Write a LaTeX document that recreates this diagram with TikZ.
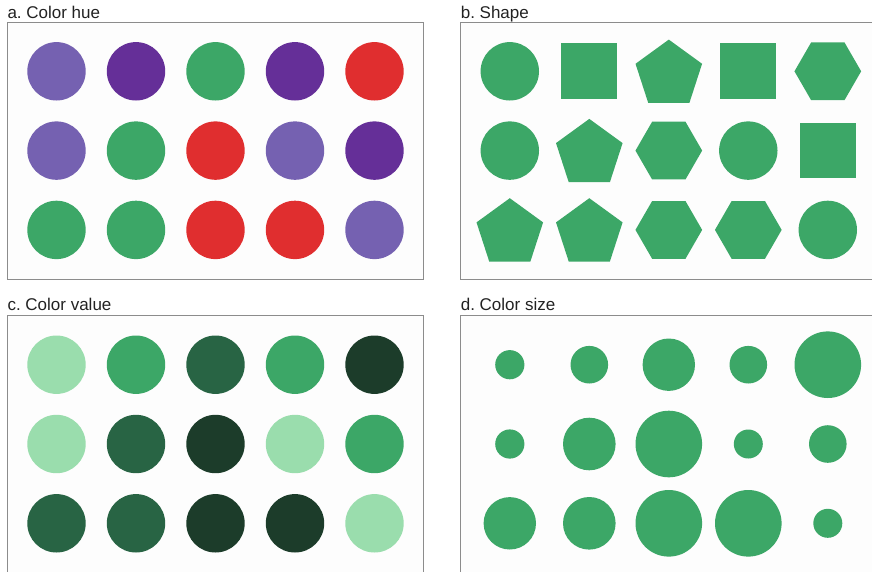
\documentclass[tikz,border=0pt]{standalone}
\usepackage{fontspec}
\setmainfont{Liberation Sans}
\usetikzlibrary{shapes.geometric}
\frenchspacing
\definecolor{Ink}{HTML}{222222}
\definecolor{Frame}{HTML}{8C8C8C}
\definecolor{Paper}{HTML}{FDFDFD}
\definecolor{Green}{HTML}{3CA767}
\definecolor{HueLight}{HTML}{7561B1}
\definecolor{HuePurple}{HTML}{652F98}
\definecolor{HueRed}{HTML}{E02E2F}
\definecolor{ValLight}{HTML}{9ADDAD}
\definecolor{ValDark}{HTML}{286444}
\definecolor{ValDarkest}{HTML}{1C3C2A}
\tikzset{
  panel/.style={draw=Frame, fill=Paper, line width=1pt},
  paneltitle/.style={anchor=base west, inner sep=0pt, text=Ink, font=\fontsize{17}{20}\selectfont},
  dot/.style={circle, fill=#1, draw=none, inner sep=0pt, minimum size=58.4pt},
  blockshape/.style={rectangle, fill=Green, inner sep=0pt, minimum size=55.7pt},
  pentashape/.style={regular polygon, regular polygon sides=5, fill=Green, inner sep=0pt, minimum size=70pt, yshift=-3.3pt},
  hexashape/.style={regular polygon, regular polygon sides=6, fill=Green, inner sep=0pt, minimum size=66.7pt}
}

\begin{document}
\begin{tikzpicture}[x=1pt,y=-1pt]
\useasboundingbox (0,0) rectangle (872,571);
\clip (0,0) rectangle (872,571);

% frames
\draw[panel] (7.3,22.7) rectangle (423.3,279);
\draw[panel] (460.3,22.7) rectangle (876.3,279);
\draw[panel] (7.3,315.7) rectangle (423.3,580);
\draw[panel] (460.3,315.7) rectangle (876.3,580);

\node[paneltitle] (title-a) at (7.3,18.3) {a. Color hue};
\node[paneltitle] (title-b) at (460.6,18.3) {b. Shape};
\node[paneltitle] (title-c) at (7.3,310.8) {c. Color value};
\node[paneltitle] (title-d) at (460.6,310.8) {d. Color size};

% a. hue
\foreach \row/\colours in {1/{HueLight,HuePurple,Green,HuePurple,HueRed},
                           2/{HueLight,Green,HueRed,HueLight,HuePurple},
                           3/{Green,Green,HueRed,HueRed,HueLight}}
  \foreach \c [count=\col] in \colours
    \node[dot=\c] (hue-\row-\col) at ({56.5+79.5*(\col-1)},{71.3+79.3*(\row-1)}) {};

% b. shape
\node[dot=Green] (shape-1-1) at (509.8,71.3) {};
\node[blockshape] (shape-1-2) at (589.3,71.3) {};
\node[pentashape] (shape-1-3) at (668.8,71.3) {};
\node[blockshape] (shape-1-4) at (748.3,71.3) {};
\node[hexashape] (shape-1-5) at (827.8,71.3) {};
\node[dot=Green] (shape-2-1) at (509.8,150.6) {};
\node[pentashape] (shape-2-2) at (589.3,150.6) {};
\node[hexashape] (shape-2-3) at (668.8,150.6) {};
\node[dot=Green] (shape-2-4) at (748.3,150.6) {};
\node[blockshape] (shape-2-5) at (827.8,150.6) {};
\node[pentashape] (shape-3-1) at (509.8,229.9) {};
\node[pentashape] (shape-3-2) at (589.3,229.9) {};
\node[hexashape] (shape-3-3) at (668.8,229.9) {};
\node[hexashape] (shape-3-4) at (748.3,229.9) {};
\node[dot=Green] (shape-3-5) at (827.8,229.9) {};

% c. value
\foreach \row/\colours in {1/{ValLight,Green,ValDark,Green,ValDarkest},
                           2/{ValLight,ValDark,ValDarkest,ValLight,Green},
                           3/{ValDark,ValDark,ValDarkest,ValDarkest,ValLight}}
  \foreach \c [count=\col] in \colours
    \node[dot=\c] (value-\row-\col) at ({56.5+79.5*(\col-1)},{364.7+79.3*(\row-1)}) {};

% d. size
\foreach \row/\sizes in {1/{29.2,37.6,52.4,37.6,66.6},
                         2/{29.2,52.6,66.6,29,37.6},
                         3/{52.4,52.6,66.6,66.6,29}}
  \foreach \d [count=\col] in \sizes
    \node[dot=Green, minimum size=\d pt] (size-\row-\col) at ({509.8+79.5*(\col-1)},{364.7+79.3*(\row-1)}) {};
\end{tikzpicture}
\end{document}
